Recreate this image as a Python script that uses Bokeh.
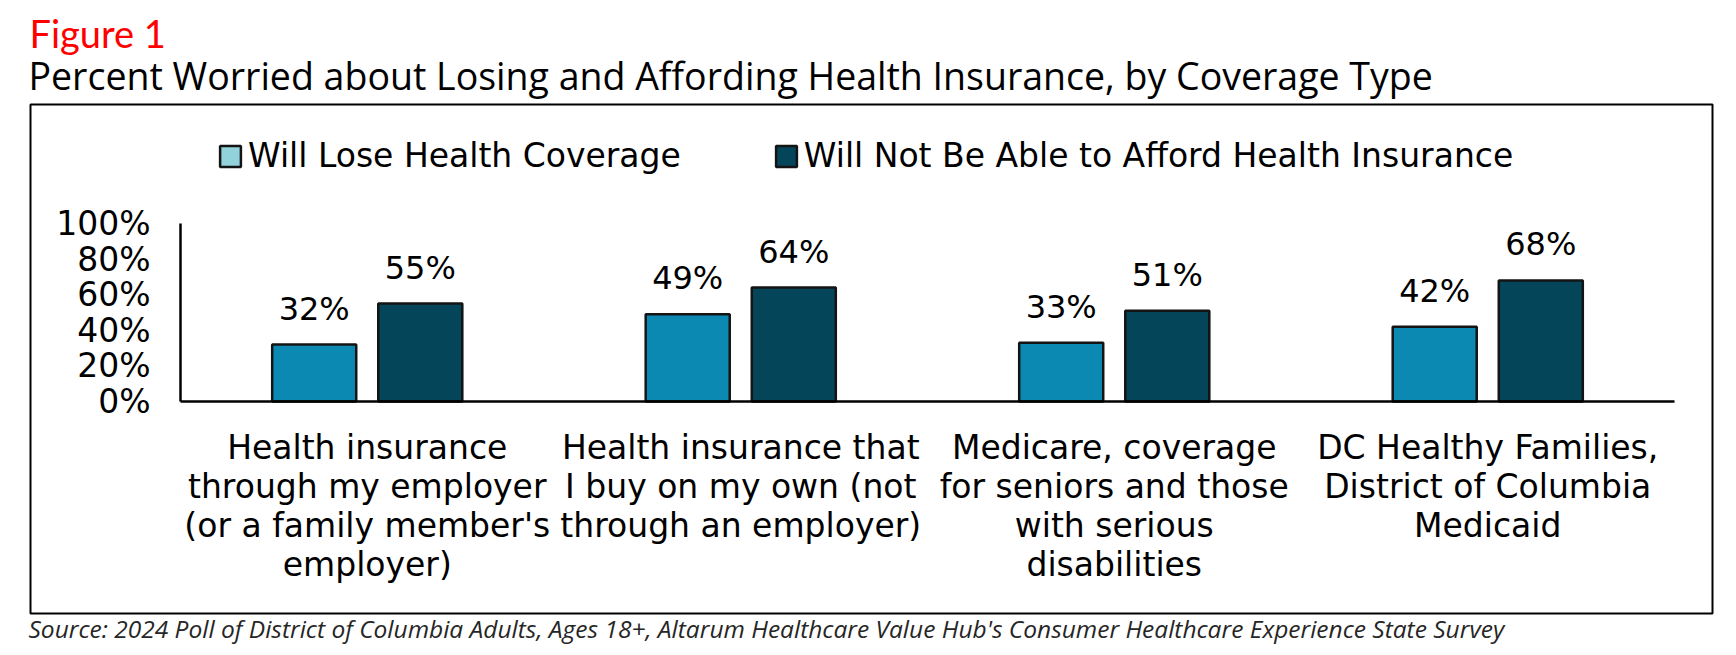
from bokeh.plotting import figure
from bokeh.models import (Range1d, ColumnDataSource, LabelSet, Label, Legend,
                          LegendItem, FixedTicker, BoxAnnotation)
from bokeh.transform import dodge
from bokeh.core.properties import value
from bokeh.embed import file_html
from bokeh.resources import INLINE

# ---------------- data ----------------
categories = [
    "Health insurance through my employer (or a family member's employer)",
    "Health insurance that I buy on my own (not through an employer)",
    "Medicare, coverage for seniors and those with serious disabilities",
    "DC Healthy Families, District of Columbia Medicaid",
]
category_labels = [
    "Health insurance\nthrough my employer\n(or a family member's\nemployer)",
    "Health insurance that\nI buy on my own (not\nthrough an employer)",
    "Medicare, coverage\nfor seniors and those\nwith serious\ndisabilities",
    "DC Healthy Families,\nDistrict of Columbia\nMedicaid",
]
series_names = ["Will Lose Health Coverage", "Will Not Be Able to Afford Health Insurance"]
lose_values = [32, 49, 33, 42]
afford_values = [55, 64, 51, 68]
y_ticks = [0, 20, 40, 60, 80, 100]
y_tick_labels = ["0%", "20%", "40%", "60%", "80%", "100%"]

fig_label = "Figure 1"
title_text = "Percent Worried about Losing and Affording Health Insurance, by Coverage Type"
source_text = ("Source: 2024 Poll of District of Columbia Adults, Ages 18+, Altarum Healthcare "
               "Value Hub's Consumer Healthcare Experience State Survey")

# ---------------- style / layout ----------------
LIGHT = "#0B89B2"
DARK = "#05455A"
PALE = "#92D2DA"
EDGE = "#141414"
FONT = "DejaVu Sans"
FS = "33px"
FS_DATA = "32px"

CW, CH = 1720, 647            # canvas (= frame)
X0_PX, CAT_PX = 180, 373.5    # pixel of category axis start, pixels per category
Y0_PX, PCT_PX = 401, 1.78     # pixel of 0 %, pixels per percentage point

def dx(px):
    return (px - X0_PX) / CAT_PX

def dy(py):
    return (Y0_PX - py) / PCT_PX

n = len(categories)
src = ColumnDataSource(dict(
    xc=[i + 0.5 for i in range(n)],
    lose=lose_values,
    afford=afford_values,
    lose_txt=[f"{v}%" for v in lose_values],
    afford_txt=[f"{v}%" for v in afford_values],
))

p = figure(
    x_range=Range1d(dx(0), dx(CW)),
    y_range=Range1d(dy(CH), dy(0)),
    frame_width=CW, frame_height=CH,
    min_border=0,
    toolbar_location=None, tools="", output_backend="svg",
)
p.background_fill_color = "white"
p.border_fill_color = "white"
p.outline_line_color = None
p.xgrid.grid_line_color = None
p.ygrid.grid_line_color = None

OFF = 0.142
W = 0.225
p.vbar(x=dodge("xc", -OFF), top="lose", width=W, source=src,
       fill_color=LIGHT, line_color=EDGE, line_width=2.5)
p.vbar(x=dodge("xc", OFF), top="afford", width=W, source=src,
       fill_color=DARK, line_color=EDGE, line_width=2.5)

for col, txt, off in (("lose", "lose_txt", -OFF), ("afford", "afford_txt", OFF)):
    p.add_layout(LabelSet(
        x=dodge("xc", off), y=col, text=txt, source=src,
        text_align="center", text_baseline="middle", y_offset=36,
        text_font=value(FONT), text_font_size=FS_DATA, text_color="black"))

# legend (swatches use the legend colours of the original)
nan = float("nan")
leg1 = p.vbar(x=[nan], top=[nan], width=W, fill_color=PALE, line_color=EDGE, line_width=2.5)
leg2 = p.vbar(x=[nan], top=[nan], width=W, fill_color=DARK, line_color=EDGE, line_width=2.5)
legend = Legend(
    items=[LegendItem(label=series_names[0], renderers=[leg1]),
           LegendItem(label=series_names[1], renderers=[leg2])],
    orientation="horizontal", location=(217, 472),
    glyph_width=26, glyph_height=26, label_standoff=5, spacing=92,
    padding=0, margin=0, border_line_color=None, background_fill_alpha=0,
    label_text_font=FONT, label_text_font_size=FS, label_text_color="black",
)
p.add_layout(legend)

# axes drawn at the data origin
p.yaxis.ticker = FixedTicker(ticks=y_ticks)
p.yaxis.major_label_overrides = dict(zip(y_ticks, y_tick_labels))
p.yaxis.fixed_location = 0
p.yaxis.bounds = (0, 100)
p.xaxis.ticker = FixedTicker(ticks=src.data["xc"])
p.xaxis.major_label_overrides = dict(zip(src.data["xc"], category_labels))
p.xaxis.fixed_location = 0
p.xaxis.bounds = (0, n)
for ax in (p.xaxis, p.yaxis):
    ax.axis_line_color = "black"
    ax.axis_line_width = 2.5
    ax.major_tick_line_color = None
    ax.minor_tick_line_color = None
    ax.major_tick_out = 0
    ax.major_tick_in = 0
    ax.major_label_text_font = FONT
    ax.major_label_text_font_size = FS
    ax.major_label_text_color = "black"
p.yaxis.major_label_standoff = 30
p.xaxis.major_label_standoff = 26
p.xaxis.major_label_text_line_height = 1.0

# outer box
p.add_layout(BoxAnnotation(left=dx(30), right=dx(1712), top=dy(104), bottom=dy(613),
                           fill_alpha=0, line_color="black", line_alpha=1.0, line_width=2))

# titles and source
p.add_layout(Label(x=dx(29), y=dy(32), text=fig_label,
                   text_font="Lato", text_font_size="38px", text_color="#FF0000",
                   text_baseline="middle"))
p.add_layout(Label(x=dx(28), y=dy(75), text=title_text,
                   text_font="Open Sans", text_font_size="37.5px", text_color="black",
                   text_baseline="middle"))
p.add_layout(Label(x=dx(28), y=dy(628), text=source_text,
                   text_font="Open Sans", text_font_size="24.5px", text_font_style="italic",
                   text_color="#262626", text_baseline="middle"))

open("out.html", "w").write(file_html(p, INLINE))
